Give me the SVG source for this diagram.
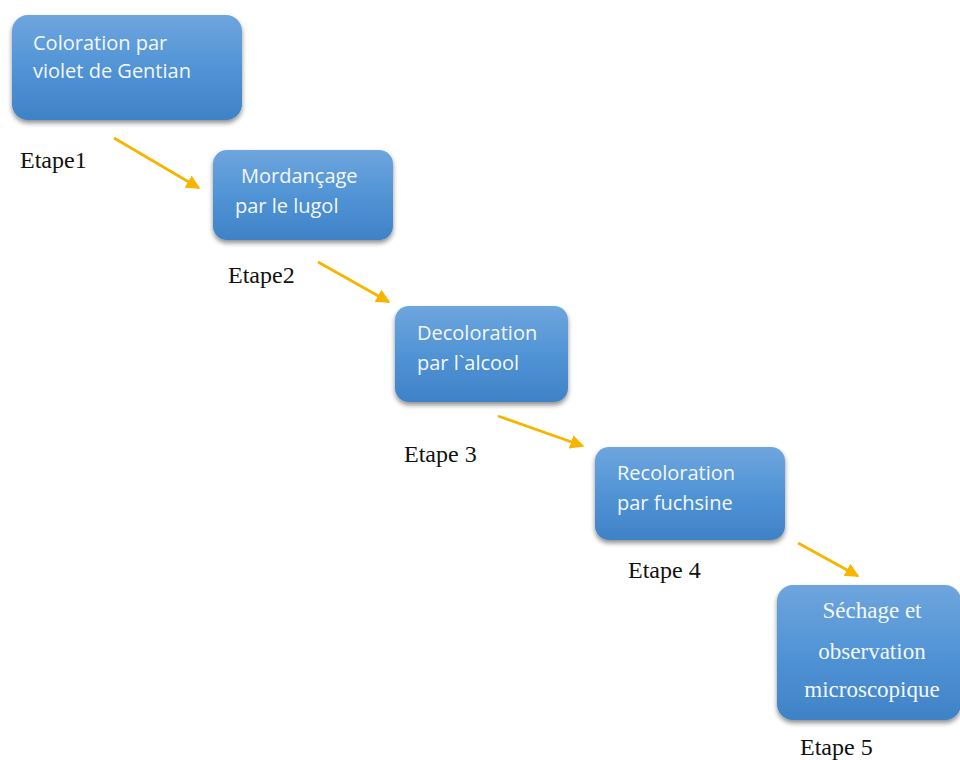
<svg xmlns="http://www.w3.org/2000/svg" width="960" height="760" viewBox="0 0 960 760">
<defs>
<linearGradient id="g" x1="0" y1="0" x2="0" y2="1">
<stop offset="0" stop-color="#6ea5dd"/>
<stop offset="0.5" stop-color="#5194d6"/>
<stop offset="1" stop-color="#3f82c6"/>
</linearGradient>
<filter id="sh" x="-10%" y="-10%" width="120%" height="130%">
<feGaussianBlur in="SourceAlpha" stdDeviation="2.5"/>
<feOffset dx="0" dy="3" result="b"/>
<feComponentTransfer><feFuncA type="linear" slope="0.45"/></feComponentTransfer>
<feMerge><feMergeNode/><feMergeNode in="SourceGraphic"/></feMerge>
</filter>
<marker id="ah" viewBox="0 0 10 10" refX="9" refY="5" markerWidth="5" markerHeight="5" orient="auto" markerUnits="strokeWidth">
<path d="M0,0 L10,5 L0,10 z" fill="#f7b500"/>
</marker>
</defs>
<style>
.box{fill:url(#g);filter:url(#sh);}
.t{font-family:"Open Sans","Liberation Sans",sans-serif;font-size:20px;fill:#f4f8fc;}
.ts{font-family:"Liberation Serif",serif;font-size:23px;fill:#f4f8fc;text-anchor:middle;}
.lab{font-family:"Liberation Serif",serif;font-size:24px;fill:#111;}
.c{stroke:#f7b500;stroke-width:2.8;fill:none;marker-end:url(#ah);}
</style>
<rect width="960" height="760" fill="#fff"/>
<g id="connectors">
<line class="c" x1="114" y1="138" x2="199" y2="188"/>
<line class="c" x1="318" y1="262" x2="389" y2="302"/>
<line class="c" x1="498" y1="416" x2="583" y2="446"/>
<line class="c" x1="798" y1="543" x2="858" y2="576"/>
</g>
<g id="n1">
<rect class="box" x="12" y="15" width="230" height="105" rx="16"/>
<text class="t" x="33" y="50">Coloration par</text>
<text class="t" x="33" y="78">violet de Gentian</text>
</g>
<g id="n2">
<rect class="box" x="213" y="150" width="180" height="90" rx="14"/>
<text class="t" x="241" y="183">Mordançage</text>
<text class="t" x="235" y="213">par le lugol</text>
</g>
<g id="n3">
<rect class="box" x="395" y="306" width="173" height="96" rx="14"/>
<text class="t" x="417" y="340">Decoloration</text>
<text class="t" x="417" y="370">par l`alcool</text>
</g>
<g id="n4">
<rect class="box" x="595" y="447" width="190" height="93" rx="14"/>
<text class="t" x="617" y="480">Recoloration</text>
<text class="t" x="617" y="510">par fuchsine</text>
</g>
<g id="n5">
<rect class="box" x="777" y="585" width="184" height="135" rx="16"/>
<text class="ts" x="872" y="618">Séchage et</text>
<text class="ts" x="872" y="659">observation</text>
<text class="ts" x="872" y="697">microscopique</text>
</g>
<g id="labels">
<text class="lab" x="20" y="168">Etape1</text>
<text class="lab" x="228" y="283">Etape2</text>
<text class="lab" x="404" y="462">Etape 3</text>
<text class="lab" x="628" y="578">Etape 4</text>
<text class="lab" x="800" y="755">Etape 5</text>
</g>
</svg>
